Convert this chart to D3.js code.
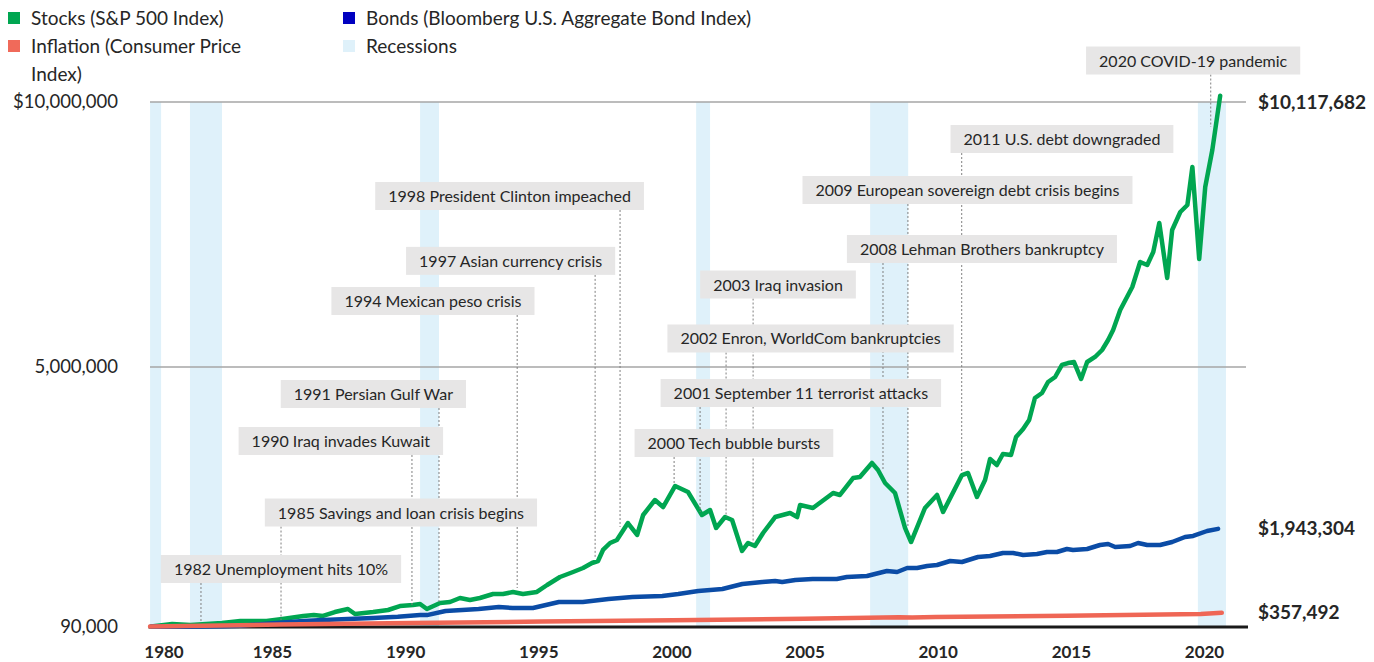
<!DOCTYPE html>
<html>
<head>
<meta charset="utf-8">
<script src="https://cdn.jsdelivr.net/npm/d3@7"></script>
<style>
  html, body { margin: 0; padding: 0; background: #ffffff; }
  svg { display: block; font-family: Lato, "Open Sans", sans-serif; }
</style>
</head>
<body>
<svg id="chart" width="1374" height="662"></svg>
<script>
// ---------------- DATA (values in thousands of dollars) ----------------
const stockYears = [1980.1, 1980.9, 1981.6, 1982.8, 1983.5, 1984.5, 1985.1, 1985.9, 1986.3, 1986.65,
  1987.1, 1987.6, 1987.87, 1988.56, 1989.13, 1989.58, 1990.08, 1990.35, 1990.61, 1991.11,
  1991.49, 1991.87, 1992.25, 1992.63, 1993.13, 1993.51, 1993.89, 1994.27, 1994.8, 1995.19,
  1995.68, 1996.18, 1996.56, 1996.9, 1997.13, 1997.32, 1997.59, 1997.85, 1998.27, 1998.62,
  1998.85, 1999.3, 1999.61, 2000.07, 2000.56, 2001.09, 2001.4, 2001.63, 2001.97, 2002.24,
  2002.62, 2002.85, 2003.11, 2003.42, 2003.88, 2004.45, 2004.72, 2004.83, 2005.32, 2006.09,
  2006.35, 2006.85, 2007.11, 2007.57, 2007.8, 2008.07, 2008.45, 2008.83, 2009.06, 2009.59,
  2010.05, 2010.28, 2011.0, 2011.23, 2011.57, 2011.88, 2012.07, 2012.33, 2012.56, 2012.87,
  2013.06, 2013.33, 2013.56, 2013.78, 2014.05, 2014.28, 2014.55, 2014.81, 2015.04, 2015.27,
  2015.54, 2015.77, 2016.07, 2016.34, 2016.57, 2016.76, 2017.03, 2017.49, 2017.79, 2018.06,
  2018.29, 2018.52, 2018.82, 2019.01, 2019.32, 2019.59, 2019.78, 2020.04, 2020.27, 2020.54,
  2020.84];
const stockValuesK = [100, 147, 128, 166, 203, 203, 241, 298, 317, 298,
  373, 430, 335, 373, 411, 486, 505, 524, 430, 543,
  562, 637, 600, 637, 713, 713, 751, 713, 751, 883,
  1034, 1128, 1204, 1298, 1336, 1544, 1676, 1732, 2053, 1827,
  2204, 2487, 2355, 2752, 2638, 2204, 2298, 1959, 2166, 2110,
  1525, 1676, 1619, 1864, 2166, 2242, 2166, 2393, 2336, 2619,
  2582, 2902, 2921, 3186, 3053, 2808, 2619, 1959, 1694, 2336,
  2582, 2261, 2959, 2997, 2544, 2865, 3261, 3148, 3356, 3337,
  3676, 3827, 3997, 4413, 4507, 4715, 4809, 5036, 5073, 5092,
  4771, 5092, 5187, 5319, 5507, 5696, 6074, 6508, 6980, 6923,
  7169, 7716, 6678, 7584, 7924, 8056, 8773, 7036, 8395, 9094,
  10118];

const bondYears = [1980.1, 1981.58, 1982.84, 1983.5, 1984.74, 1985.9, 1986.65, 1987.6, 1988.56, 1989.5,
  1990.35, 1990.61, 1991.32, 1992.58, 1993.35, 1993.88, 1994.65, 1995.64, 1996.55, 1997.53,
  1998.44, 1999.58, 2000.19, 2000.95, 2001.87, 2002.63, 2003.39, 2003.88, 2004.15, 2004.65,
  2005.31, 2006.23, 2006.61, 2007.38, 2008.14, 2008.53, 2008.91, 2009.29, 2009.67, 2010.05,
  2010.55, 2011.0, 2011.61, 2012.07, 2012.56, 2012.95, 2013.33, 2013.86, 2014.24, 2014.62,
  2015.0, 2015.23, 2015.77, 2016.26, 2016.57, 2016.84, 2017.41, 2017.71, 2018.06, 2018.55,
  2019.01, 2019.5, 2019.81, 2020.34, 2020.76];
const bondValuesK = [100, 95, 105, 115, 160, 203, 222, 241, 260, 284,
  317, 315, 392, 430, 468, 449, 449, 562, 562, 618,
  656, 675, 713, 770, 807, 902, 939, 958, 939, 977,
  996, 996, 1034, 1053, 1147, 1128, 1204, 1204, 1241, 1260,
  1336, 1317, 1411, 1430, 1487, 1487, 1449, 1468, 1506, 1506,
  1562, 1543, 1562, 1638, 1657, 1600, 1619, 1676, 1638, 1638,
  1694, 1789, 1808, 1902, 1943];

const inflationYears = [1980.06, 1985, 1990, 1995, 2000, 2005, 2008.6, 2009.1, 2010, 2015, 2020.1, 2020.9];
const inflationValuesK = [100, 136, 164, 193, 217, 245, 275, 268, 279, 304, 335, 357];

const recessionStarts = [1980.06, 1981.58, 1990.35, 2000.87, 2007.5, 2019.99];
const recessionEnds   = [1980.48, 1982.8, 1991.07, 2001.4, 2008.95, 2021.06];

const xTickYears = [1980, 1985, 1990, 1995, 2000, 2005, 2010, 2015, 2020];
const yTickValuesK = [90, 5000, 10000];
const yTickLabels = ["90,000", "5,000,000", "$10,000,000"];

const eventLabels = [
  "1982 Unemployment hits 10%",
  "1985 Savings and loan crisis begins",
  "1990 Iraq invades Kuwait",
  "1991 Persian Gulf War",
  "1994 Mexican peso crisis",
  "1997 Asian currency crisis",
  "1998 President Clinton impeached",
  "2000 Tech bubble bursts",
  "2001 September 11 terrorist attacks",
  "2002 Enron, WorldCom bankruptcies",
  "2003 Iraq invasion",
  "2008 Lehman Brothers bankruptcy",
  "2009 European sovereign debt crisis begins",
  "2011 U.S. debt downgraded",
  "2020 COVID-19 pandemic"];
const eventYears = [1982, 1985.05, 1990.04, 1991.07, 1994.05, 1997.02, 1997.97, 2000.03, 2001.02, 2002.01,
  2003.04, 2007.99, 2008.94, 2010.99, 2020.48];
const eventValuesK = [184, 222, 505, 562, 826, 1411, 1978, 2808, 2261, 2166,
  1676, 3053, 1978, 2997, 9528];
const labelYears = [1985.05, 1989.62, 1987.33, 1988.57, 1990.84, 1993.80, 1993.76, 2002.31, 2004.86, 2005.23,
  2003.99, 2011.76, 2011.21, 2014.81, 2019.81];
const labelValuesK = [1185, 2251, 3601, 4488, 6244, 7001, 8226, 3563, 4507, 5536,
  6555, 7225, 8339, 9301, 10783];

const seriesNames = ["Stocks (S&P 500 Index)", "Bonds (Bloomberg U.S. Aggregate Bond Index)",
  "Inflation (Consumer Price Index)", "Recessions"];
const endLabels = ["$10,117,682", "$1,943,304", "$357,492"];
const endValuesK = [10117.682, 1943.304, 357.492];

// ---------------- STYLE ----------------
const C = {
  stocks: "#00a651", bonds: "#0b4ca6", inflation: "#ef6655",
  bondsLegend: "#0000c0", inflationLegend: "#f06a5a", stocksLegend: "#00a651",
  recession: "#dff1fa", grid: "#a6a6a6", box: "#e7e6e6", text: "#262626"
};

const svg = d3.select("#chart");
const x = d3.scaleLinear().domain([1980, 2021.9]).range([148.5, 1248]);
const y = d3.scaleLinear().domain([90, 10000]).range([627, 102]);
// label positions of the year axis (Excel-style category labels)
const xLabel = d3.scaleLinear().domain([1985, 2020]).range([272, 1204]);

// Recession bands
svg.append("g").selectAll("rect")
  .data(recessionStarts.map((s, i) => [s, recessionEnds[i]]))
  .join("rect")
  .attr("x", d => x(d[0]))
  .attr("width", d => x(d[1]) - x(d[0]))
  .attr("y", y(10000))
  .attr("height", y(90) - y(10000))
  .attr("fill", C.recession);

// Gridlines
svg.append("g").selectAll("line")
  .data([5000, 10000])
  .join("line")
  .attr("x1", 150).attr("x2", 1246)
  .attr("y1", d => y(d)).attr("y2", d => y(d))
  .attr("stroke", C.grid).attr("stroke-width", 1.5);

// Y axis labels
const yAxis = d3.axisLeft(y).tickValues(yTickValuesK).tickSize(0).tickPadding(0)
  .tickFormat((d, i) => yTickLabels[i]);
const gy = svg.append("g").attr("transform", "translate(118,0)").call(yAxis);
gy.select(".domain").remove();
gy.selectAll("text").attr("font-family", "Lato").attr("font-size", 18.5).attr("fill", C.text);

// Lines
const line = d3.line().x(d => x(d[0])).y(d => y(d[1]));
function drawSeries(years, vals, color, w) {
  svg.append("path")
    .datum(years.map((t, i) => [t, vals[i]]))
    .attr("d", line)
    .attr("fill", "none")
    .attr("stroke", color)
    .attr("stroke-width", w)
    .attr("stroke-linejoin", "round")
    .attr("stroke-linecap", "round");
}

// X axis baseline
svg.append("line")
  .attr("x1", x(1980)).attr("x2", x(2021.9))
  .attr("y1", y(90)).attr("y2", y(90))
  .attr("stroke", "#1a1a1a").attr("stroke-width", 3);

// X axis labels
const xAxis = d3.axisBottom(xLabel).tickValues(xTickYears).tickSize(0).tickPadding(19).tickFormat(d3.format("d"));
const gx = svg.append("g").attr("transform", `translate(0,${y(90)})`).call(xAxis);
gx.select(".domain").remove();
gx.selectAll("text").attr("font-family", "Lato").attr("font-weight", "bold").attr("font-size", 17).attr("fill", C.text);
gx.selectAll(".tick").filter(d => d === 1980).attr("transform", `translate(${x(1980) + 15.5},0)`);

drawSeries(stockYears, stockValuesK, C.stocks, 4.5);
drawSeries(bondYears, bondValuesK, C.bonds, 4.5);
drawSeries(inflationYears, inflationValuesK, C.inflation, 4.5);

// Annotation leader lines
svg.append("g").selectAll("line")
  .data(eventLabels.map((l, i) => i))
  .join("line")
  .attr("x1", i => x(eventYears[i])).attr("x2", i => x(eventYears[i]))
  .attr("y1", i => y(labelValuesK[i]) + 14)
  .attr("y2", i => y(eventValuesK[i]))
  .attr("stroke", "#7f7f7f").attr("stroke-width", 1)
  .attr("stroke-dasharray", "2,2");

// Annotation boxes
const ann = svg.append("g").selectAll("g")
  .data(eventLabels.map((l, i) => i))
  .join("g")
  .attr("transform", i => `translate(${x(labelYears[i])},${y(labelValuesK[i])})`);
ann.append("rect").attr("fill", C.box);
ann.append("text")
  .text(i => eventLabels[i])
  .attr("text-anchor", "middle")
  .attr("y", 6)
  .attr("font-family", "Lato").attr("font-size", 16).attr("fill", C.text);
ann.each(function () {
  const g = d3.select(this);
  const w = g.select("text").node().getComputedTextLength() + 26;
  g.select("rect").attr("x", -w / 2).attr("y", -14).attr("width", w).attr("height", 28);
});

// End-value labels
svg.append("g").selectAll("text")
  .data(endLabels.map((l, i) => i))
  .join("text")
  .attr("x", 1258)
  .attr("y", i => Math.max(y(endValuesK[i]), y(10000)))
  .attr("dy", "0.35em")
  .text(i => endLabels[i])
  .attr("font-family", "Lato").attr("font-weight", "bold").attr("font-size", 19).attr("fill", C.text);

// Legend
const legend = svg.append("g").attr("font-family", "Lato").attr("font-size", 19).attr("fill", C.text);
const legendItems = [
  { col: 0, row: 0, color: C.stocksLegend, lines: [seriesNames[0]] },
  { col: 1, row: 0, color: C.bondsLegend, lines: [seriesNames[1]] },
  { col: 0, row: 1, color: C.inflationLegend, lines: ["Inflation (Consumer Price", "Index)"] },
  { col: 1, row: 1, color: C.recession, lines: [seriesNames[3]] }
];
legendItems.forEach(it => {
  const x0 = it.col === 0 ? 8 : 343;
  const yc = 18 + it.row * 28;
  legend.append("rect").attr("x", x0).attr("y", yc - 6).attr("width", 12).attr("height", 12).attr("fill", it.color);
  const t = legend.append("text").attr("x", x0 + 23).attr("y", yc + 6.5);
  it.lines.forEach((ln, k) => t.append("tspan").attr("x", x0 + 23).attr("dy", k === 0 ? 0 : 28).text(ln));
});
</script>
</body>
</html>
